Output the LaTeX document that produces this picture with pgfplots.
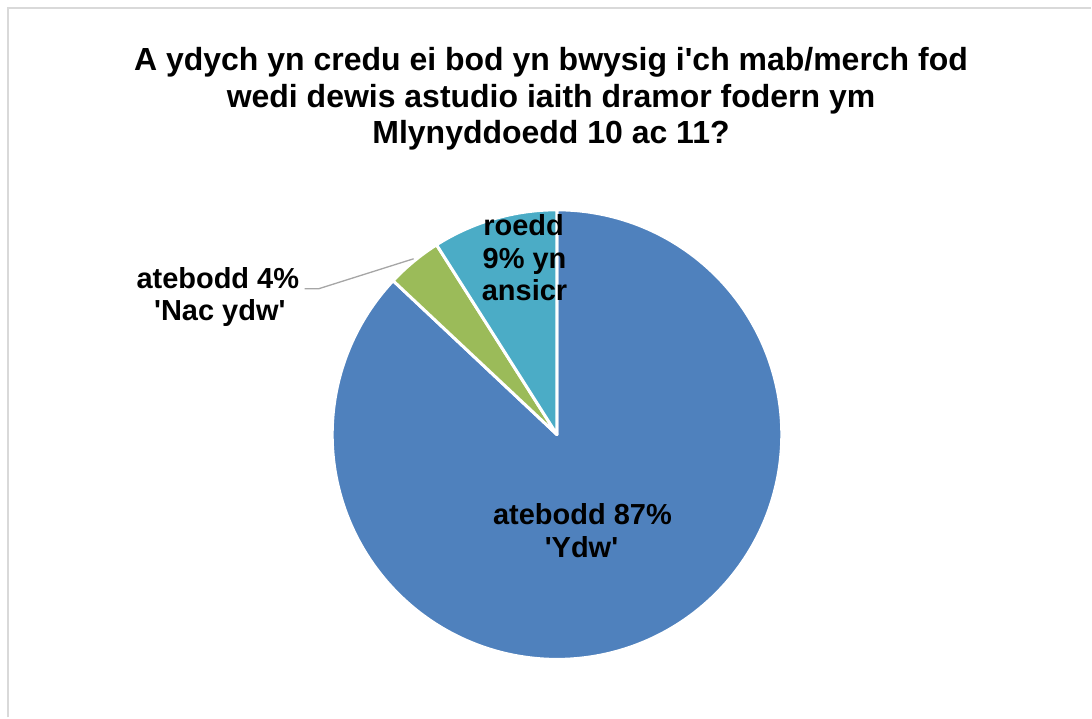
\documentclass[border=0pt]{standalone}
\usepackage{fontspec}
\setmainfont{Liberation Sans}
\usepackage{pgfplots}
\pgfplotsset{compat=1.18}
\definecolor{pieblue}{HTML}{4F81BD}
\definecolor{piegreen}{HTML}{9BBB59}
\definecolor{pieteal}{HTML}{4BACC6}
\definecolor{framegray}{HTML}{D9D9D9}
\definecolor{leadergray}{HTML}{A6A6A6}
\begin{document}
\begin{tikzpicture}
\begin{axis}[width=1092bp,height=718bp,scale only axis,
  xmin=0,xmax=1092,ymin=0,ymax=718,y dir=reverse,hide axis,clip=false]
\draw[draw=none] (axis cs:0,0) rectangle (axis cs:1092,718);
\draw[framegray,line width=2bp] (axis cs:8.5,718) -- (axis cs:8.5,8.5) -- (axis cs:1092,8.5);
% slices (percent): Ydw 87, Nac ydw 4, ansicr 9 ; start at 12 o'clock, clockwise
\addplot[fill=pieblue,draw=white,line width=3bp,line join=round,
  domain={-90}:{-90+3.6*87},samples=300]
  ({557.5+225*cos(x)},{435+225*sin(x)}) -- (axis cs:557.5,435) -- cycle;
\addplot[fill=piegreen,draw=white,line width=3bp,line join=round,
  domain={-90+3.6*87}:{-90+3.6*91},samples=40]
  ({557.5+225*cos(x)},{435+225*sin(x)}) -- (axis cs:557.5,435) -- cycle;
\addplot[fill=pieteal,draw=white,line width=3bp,line join=round,
  domain={-90+3.6*91}:{-90+3.6*100},samples=60]
  ({557.5+225*cos(x)},{435+225*sin(x)}) -- (axis cs:557.5,435) -- cycle;
% leader line
\draw[leadergray,line width=1.3bp] (axis cs:305,289) -- (axis cs:319,289) -- (axis cs:414,259);
% title
\begin{scope}[every node/.style={anchor=base,font=\fontsize{32bp}{37bp}\selectfont\bfseries,inner sep=0pt}]
\node at (axis cs:551.5,71) {A ydych yn credu ei bod yn bwysig i\textquotesingle ch mab/merch fod};
\node at (axis cs:551.5,107.5) {wedi dewis astudio iaith dramor fodern ym};
\node at (axis cs:551.5,144) {Mlynyddoedd 10 ac 11?};
\end{scope}
% data labels
\begin{scope}[every node/.style={anchor=base,font=\fontsize{29bp}{33bp}\selectfont\bfseries,inner sep=0pt}]
\node at (axis cs:218,289) {atebodd 4\%};
\node at (axis cs:220,320.7) {\textquotesingle Nac ydw\textquotesingle};
\node at (axis cs:524,235.7) {roedd};
\node at (axis cs:525,269) {9\% yn};
\node at (axis cs:525,301) {ansicr};
\node at (axis cs:583,525) {atebodd 87\%};
\node at (axis cs:582,558) {\textquotesingle Ydw\textquotesingle};
\end{scope}
\end{axis}
\end{tikzpicture}
\end{document}
